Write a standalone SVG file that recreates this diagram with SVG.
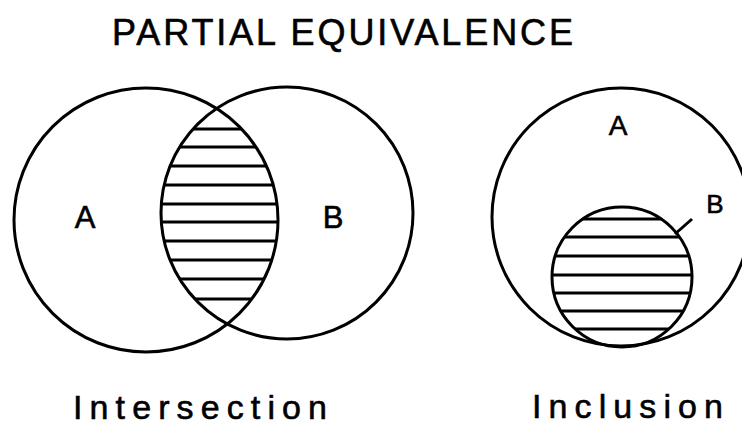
<svg xmlns="http://www.w3.org/2000/svg" width="742" height="426" viewBox="0 0 742 426">
<style>
.c{fill:none;stroke:#000;stroke-width:3}
.h{stroke:#000;stroke-width:3}
.t{font-family:"Liberation Sans",Arial,sans-serif;fill:#000;stroke:#000;stroke-width:0.6}
</style>
<defs>
<clipPath id="clipA"><circle cx="146" cy="220" r="132"/></clipPath>
<clipPath id="clipB"><circle cx="287" cy="213" r="126"/></clipPath>
<clipPath id="clipIn"><circle cx="622" cy="277" r="70"/></clipPath>
</defs>
<rect width="742" height="426" fill="#fff"/>
<text class="t" x="112" y="45" font-size="36" textLength="461" lengthAdjust="spacing">PARTIAL EQUIVALENCE</text>
<g id="intersection">
<g clip-path="url(#clipA)"><g clip-path="url(#clipB)" class="h">
<line x1="150" y1="129" x2="290" y2="129"/>
<line x1="150" y1="147" x2="290" y2="147"/>
<line x1="150" y1="166" x2="290" y2="166"/>
<line x1="150" y1="185" x2="290" y2="185"/>
<line x1="150" y1="204" x2="290" y2="204"/>
<line x1="150" y1="222" x2="290" y2="222"/>
<line x1="150" y1="241" x2="290" y2="241"/>
<line x1="150" y1="260" x2="290" y2="260"/>
<line x1="150" y1="279" x2="290" y2="279"/>
<line x1="150" y1="299" x2="290" y2="299"/>
</g></g>
<g id="circleA"><circle class="c" cx="146" cy="220" r="132"/><text class="t" x="85" y="228" font-size="31" text-anchor="middle">A</text></g>
<g id="circleB"><circle class="c" cx="287" cy="213" r="126"/><text class="t" x="333" y="228" font-size="31" text-anchor="middle">B</text></g>
<text class="t" x="73" y="419" font-size="34" textLength="254" lengthAdjust="spacing">Intersection</text>
</g>
<g id="inclusion">
<g id="outerA"><circle class="c" cx="621" cy="217" r="129"/><text class="t" x="618" y="135" font-size="28" text-anchor="middle">A</text></g>
<g id="innerB">
<g clip-path="url(#clipIn)" class="h">
<line x1="550" y1="219" x2="695" y2="219"/>
<line x1="550" y1="237" x2="695" y2="237"/>
<line x1="550" y1="256" x2="695" y2="256"/>
<line x1="550" y1="275" x2="695" y2="275"/>
<line x1="550" y1="293" x2="695" y2="293"/>
<line x1="550" y1="311" x2="695" y2="311"/>
<line x1="550" y1="329" x2="695" y2="329"/>
</g>
<circle class="c" cx="622" cy="277" r="70"/>
<text class="t" x="715" y="213" font-size="26" text-anchor="middle">B</text>
</g>
<text class="t" x="532" y="418" font-size="34" textLength="191" lengthAdjust="spacing">Inclusion</text>
</g>
<g id="connectors"><line class="h" x1="675" y1="234" x2="692" y2="219"/></g>
</svg>
